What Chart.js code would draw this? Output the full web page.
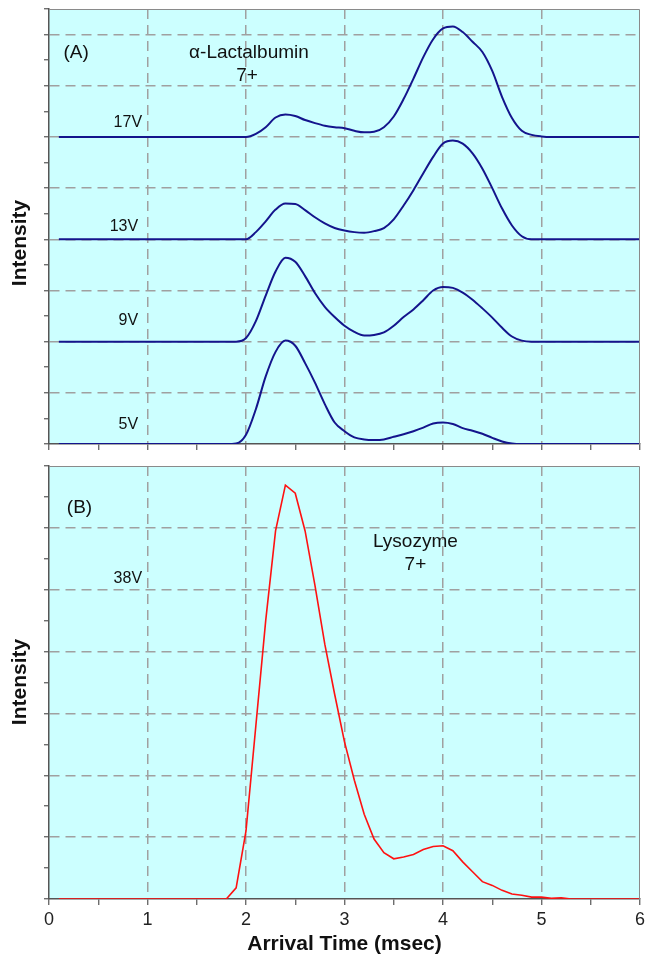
<!DOCTYPE html>
<html>
<head>
<meta charset="utf-8">
<script src="https://cdn.jsdelivr.net/npm/chart.js@4.4.1/dist/chart.umd.min.js"></script>
<style>
body { margin: 0; background: #ffffff; }
#top_wrap { position: absolute; left: 0; top: 0; width: 646px; height: 460px; }
#bottom_wrap { position: absolute; left: 0; top: 455px; width: 646px; height: 502px; }
</style>
</head>
<body>
<div id="top_wrap"><canvas id="top_canvas"></canvas></div>
<div id="bottom_wrap"><canvas id="bottom_canvas"></canvas></div>
<script>
// arrival time axis (msec), shared by every trace
const arrivalTime = [
    0.1, 0.2, 0.3, 0.4, 0.5, 0.6, 0.7, 0.8, 0.9, 1.0,
    1.1, 1.2, 1.3, 1.4, 1.5, 1.6, 1.7, 1.8, 1.9, 2.0,
    2.1, 2.2, 2.3, 2.4, 2.5, 2.6, 2.7, 2.8, 2.9, 3.0,
    3.1, 3.2, 3.3, 3.4, 3.5, 3.6, 3.7, 3.8, 3.9, 4.0,
    4.1, 4.2, 4.3, 4.4, 4.5, 4.6, 4.7, 4.8, 4.9, 5.0,
    5.1, 5.2, 5.3, 5.4, 5.5, 5.6, 5.7, 5.8, 5.9, 6.0
];

// alpha-lactalbumin 7+ at four trap voltages (arbitrary units)
const lact5V = [
    0, 0, 0, 0, 0, 0, 0, 0, 0, 0,
    0, 0, 0, 0, 0, 0, 0, 0, 0.01, 0.18,
    0.68, 1.32, 1.80, 2.02, 1.92, 1.58, 1.20, 0.78, 0.42, 0.25,
    0.13, 0.09, 0.08, 0.09, 0.14, 0.19, 0.25, 0.32, 0.40, 0.42,
    0.39, 0.31, 0.26, 0.20, 0.12, 0.05, 0.01, 0, 0, 0,
    0, 0, 0, 0, 0, 0, 0, 0, 0, 0
];
const lact9V = [
    0, 0, 0, 0, 0, 0, 0, 0, 0, 0,
    0, 0, 0, 0, 0, 0, 0, 0, 0, 0.07,
    0.40, 0.90, 1.37, 1.64, 1.56, 1.28, 0.95, 0.68, 0.48, 0.31,
    0.19, 0.12, 0.13, 0.18, 0.31, 0.48, 0.63, 0.81, 1.00, 1.07,
    1.05, 0.96, 0.82, 0.65, 0.47, 0.27, 0.10, 0.02, 0, 0,
    0, 0, 0, 0, 0, 0, 0, 0, 0, 0
];
const lact13V = [
    0, 0, 0, 0, 0, 0, 0, 0, 0, 0,
    0, 0, 0, 0, 0, 0, 0, 0, 0, 0,
    0.14, 0.35, 0.58, 0.70, 0.69, 0.57, 0.43, 0.31, 0.22, 0.17,
    0.14, 0.13, 0.16, 0.22, 0.39, 0.66, 0.96, 1.29, 1.61, 1.87,
    1.93, 1.87, 1.68, 1.38, 1.00, 0.60, 0.27, 0.06, 0, 0,
    0, 0, 0, 0, 0, 0, 0, 0, 0, 0
];
const lact17V = [
    0, 0, 0, 0, 0, 0, 0, 0, 0, 0,
    0, 0, 0, 0, 0, 0, 0, 0, 0, 0,
    0.06, 0.19, 0.38, 0.44, 0.41, 0.33, 0.27, 0.22, 0.19, 0.17,
    0.12, 0.09, 0.10, 0.19, 0.40, 0.74, 1.14, 1.56, 1.91, 2.12,
    2.16, 2.05, 1.86, 1.66, 1.29, 0.78, 0.37, 0.12, 0.04, 0.01,
    0, 0, 0, 0, 0, 0, 0, 0, 0, 0
];
// lysozyme 7+ at 38V
const lyso38V = [
    0, 0, 0, 0, 0, 0, 0, 0, 0, 0,
    0, 0, 0, 0, 0, 0, 0, 0, 0.18, 1.10,
    2.80, 4.50, 5.95, 6.69, 6.56, 5.95, 5.07, 4.12, 3.31, 2.54,
    1.92, 1.37, 0.97, 0.75, 0.65, 0.68, 0.72, 0.80, 0.85, 0.86,
    0.78, 0.60, 0.44, 0.28, 0.22, 0.14, 0.08, 0.06, 0.03, 0.03,
    0.01, 0.02, 0, 0, 0, 0, 0, 0, 0, 0
];

// stacked traces in panel A, each lifted by its own baseline
const lactTraces = [lact5V, lact9V, lact13V, lact17V];
const lactVoltages = ['5V', '9V', '13V', '17V'];
const lactOffsets = [0, 2, 4, 6];

const FONT = '"Liberation Sans", Arial, sans-serif';
const PLOT_BG = '#ccffff';
const GRID = '#a0a0a0';

function toPoints(values, offset) {
    return values.map(function(v, i) {
        return { x: arrivalTime[i], y: v + offset };
    });
}

// fill the plot area and close the box on top/right
const panelFrame = {
    id: 'panelFrame',
    beforeDraw(chart) {
        const a = chart.chartArea;
        const ctx = chart.ctx;
        ctx.save();
        ctx.fillStyle = PLOT_BG;
        ctx.fillRect(a.left, a.top, a.right - a.left, a.bottom - a.top);
        ctx.restore();
    },
    afterDraw(chart) {
        const a = chart.chartArea;
        const ctx = chart.ctx;
        ctx.save();
        ctx.strokeStyle = '#8a8a8a';
        ctx.lineWidth = 1;
        ctx.beginPath();
        ctx.moveTo(a.left, a.top + 0.5);
        ctx.lineTo(a.right - 0.5, a.top + 0.5);
        ctx.lineTo(a.right - 0.5, a.bottom);
        ctx.stroke();
        ctx.restore();
    }
};

// free text inside the panels, placed in data units
const panelText = {
    id: 'panelText',
    afterDraw(chart, args, opts) {
        const ctx = chart.ctx;
        const xs = chart.scales.x;
        const ys = chart.scales.y;
        ctx.save();
        ctx.fillStyle = '#111111';
        ctx.textBaseline = 'middle';
        (opts.items || []).forEach(function(item) {
            ctx.font = (item.bold ? 'bold ' : '') + item.size + 'px ' + FONT;
            ctx.textAlign = item.align || 'center';
            if (item.rotate) {
                ctx.save();
                ctx.translate(item.px, item.py);
                ctx.rotate(-Math.PI / 2);
                ctx.fillText(item.text, 0, 0);
                ctx.restore();
            } else {
                ctx.fillText(item.text, xs.getPixelForValue(item.x), ys.getPixelForValue(item.y));
            }
        });
        ctx.restore();
    }
};

function gridColor(maxValue) {
    return function(ctx) {
        const v = ctx.tick.value;
        if (v <= 0 || v >= maxValue) return 'rgba(0,0,0,0)';
        return Number.isInteger(v) ? GRID : 'rgba(0,0,0,0)';
    };
}

function xScale(showLabels) {
    return {
        type: 'linear',
        min: 0,
        max: 6,
        ticks: {
            stepSize: 0.5,
            autoSkip: false,
            maxRotation: 0,
            padding: 4,
            color: '#222222',
            font: { family: FONT, size: 18 },
            callback: function(v) {
                return showLabels && Number.isInteger(v) ? String(v) : '';
            }
        },
        grid: { color: gridColor(6), lineWidth: 1.5, tickColor: '#555555', tickWidth: 1.2, tickLength: 6 },
        border: { color: '#555555', width: 1.5, dash: [10, 6] },
        title: {
            display: showLabels,
            text: 'Arrival Time (msec)',
            color: '#111111',
            font: { family: FONT, size: 21, weight: 'bold' },
            padding: { top: 0, bottom: 0 }
        },
        afterFit: function(scale) {
            // keep both panels the same width, labels may hang over the edge
            scale.height = showLabels ? 58 : 16;
            scale.paddingLeft = 0;
            scale.paddingRight = 0;
        }
    };
}

function yScale(maxValue) {
    return {
        type: 'linear',
        min: 0,
        max: maxValue,
        ticks: { stepSize: 0.5, display: false },
        grid: { color: gridColor(maxValue), lineWidth: 1.5, tickColor: '#555555', tickWidth: 1.2, tickLength: 5 },
        border: { color: '#555555', width: 1.5, dash: [10, 6] },
        afterFit: function(scale) { scale.width = 49; }
    };
}

function buildChart(canvasId, datasets, yMax, showXLabels, padTop, items) {
    const canvas = document.getElementById(canvasId);
    canvas.width = canvas.parentElement.getBoundingClientRect().width;
    canvas.height = canvas.parentElement.getBoundingClientRect().height;
    return new Chart(canvas.getContext('2d'), {
        type: 'line',
        data: { datasets: datasets },
        options: {
            responsive: false,
            maintainAspectRatio: false,
            animation: false,
            layout: { padding: { top: padTop, right: 6, left: 0, bottom: 0 } },
            scales: { x: xScale(showXLabels), y: yScale(yMax) },
            plugins: {
                legend: { display: false },
                tooltip: { enabled: false },
                panelText: { items: items }
            }
        },
        plugins: [panelFrame, panelText]
    });
}

// panel A
const lactDatasets = lactTraces.map(function(values, i) {
    return {
        label: lactVoltages[i],
        data: toPoints(values, lactOffsets[i]),
        borderColor: '#14148c',
        borderWidth: 2,
        pointRadius: 0,
        cubicInterpolationMode: 'monotone',
        fill: false
    };
});

buildChart('top_canvas', lactDatasets, 8.5, false, 9, [
    { text: '(A)', x: 0.275, y: 7.64, size: 19 },
    { text: '\u03b1-Lactalbumin', x: 2.03, y: 7.64, size: 19 },
    { text: '7+', x: 2.01, y: 7.19, size: 19 },
    { text: '17V', x: 0.945, y: 6.29, size: 16, align: 'right' },
    { text: '13V', x: 0.905, y: 4.24, size: 16, align: 'right' },
    { text: '9V', x: 0.905, y: 2.42, size: 16, align: 'right' },
    { text: '5V', x: 0.905, y: 0.37, size: 16, align: 'right' },
    { text: 'Intensity', px: 20, py: 243, size: 21, bold: true, rotate: true }
]);

// panel B
buildChart('bottom_canvas', [{
    label: '38V',
    data: toPoints(lyso38V, 0),
    borderColor: '#ff1111',
    borderWidth: 1.6,
    pointRadius: 0,
    tension: 0,
    fill: false
}], 7, true, 11, [
    { text: '(B)', x: 0.31, y: 6.32, size: 19 },
    { text: 'Lysozyme', x: 3.72, y: 5.77, size: 19 },
    { text: '7+', x: 3.72, y: 5.40, size: 19 },
    { text: '38V', x: 0.945, y: 5.18, size: 16, align: 'right' },
    { text: 'Intensity', px: 20, py: 227, size: 21, bold: true, rotate: true }
]);
</script>
</body>
</html>
